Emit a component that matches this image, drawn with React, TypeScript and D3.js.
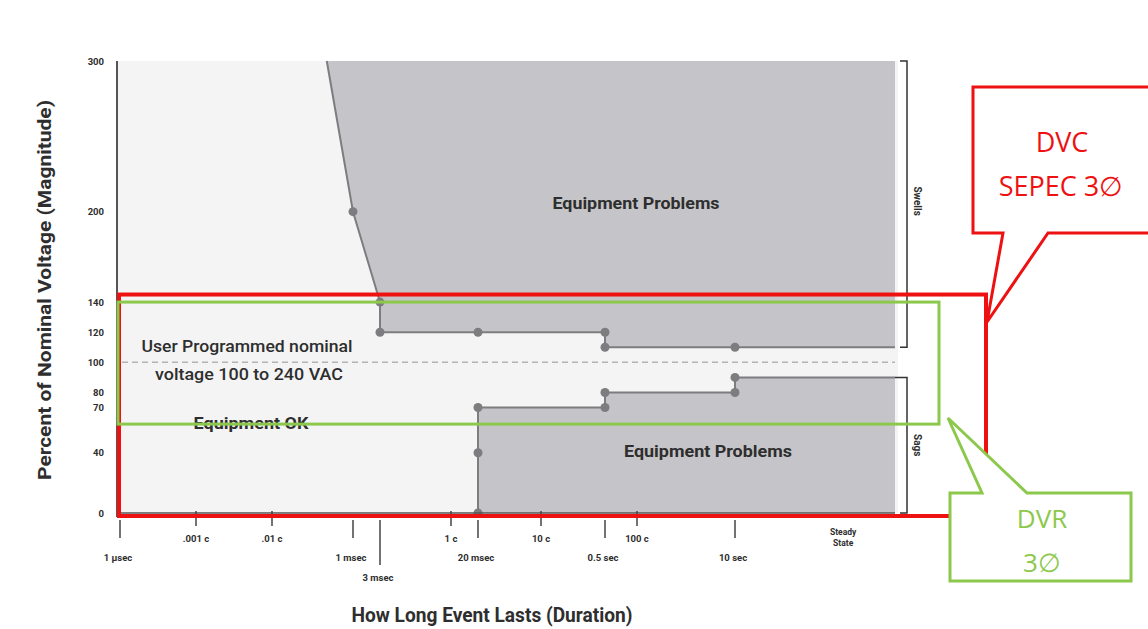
import React from "react";
import * as d3 from "d3";

// ---------- data ----------
const Y_TICKS = [0, 40, 70, 80, 100, 120, 140, 200, 300];

const CYCLE_TICKS = [
  { t: 0.001 / 60, label: ".001 c" },
  { t: 0.01 / 60, label: ".01 c" },
  { t: 1 / 60, label: "1 c" },
  { t: 10 / 60, label: "10 c" },
  { t: 100 / 60, label: "100 c" },
];

const TIME_TICKS = [
  { t: 1e-6, label: "1 \u00b5sec", long: false },
  { t: 1e-3, label: "1 msec", long: false },
  { t: 3e-3, label: "3 msec", long: true },
  { t: 0.02, label: "20 msec", long: false },
  { t: 0.5, label: "0.5 sec", long: false },
  { t: 10, label: "10 sec", long: false },
];

const T_END = 1000; // right edge of the chart (steady state)
const STEADY_LABEL_T = 225;

// Upper (swell) limit curve: [seconds, percent]
const UPPER_CURVE: [number, number][] = [
  [5.6e-4, 300],
  [1e-3, 200],
  [3e-3, 140],
  [3e-3, 120],
  [0.02, 120],
  [0.5, 120],
  [0.5, 110],
  [10, 110],
  [T_END, 110],
];
const UPPER_DOTS: [number, number][] = [
  [1e-3, 200],
  [3e-3, 140],
  [3e-3, 120],
  [0.02, 120],
  [0.5, 120],
  [0.5, 110],
  [10, 110],
];

// Lower (sag) limit curve
const LOWER_CURVE: [number, number][] = [
  [0.02, 0],
  [0.02, 40],
  [0.02, 70],
  [0.5, 70],
  [0.5, 80],
  [10, 80],
  [10, 90],
  [T_END, 90],
];
const LOWER_DOTS: [number, number][] = [
  [0.02, 0],
  [0.02, 40],
  [0.02, 70],
  [0.5, 70],
  [0.5, 80],
  [10, 80],
  [10, 90],
];

const NOMINAL = 100;
const DVC_RANGE = [0, 145];
const DVR_RANGE = [59, 140];

// ---------- layout ----------
const W = 1148;
const H = 629;
const PLOT_TOP = 61;
const PLOT_BOTTOM = 513;
const AXIS_X = 117;
// the printed time axis is a hand-drawn (piecewise) log axis
const X_BREAKS = [1e-6, 0.001 / 60, 0.01 / 60, 1e-3, 3e-3, 1 / 60, 0.02, 10 / 60, 0.5, 100 / 60, 10, T_END];
const X_BREAKS_PX = [120, 196, 272, 353, 380, 451, 478, 541, 605, 637, 735, 895];

const C_DARK = "#c5c5c9";
const C_LIGHT = "#f4f4f4";
const C_CURVE = "#7d7d80";
const C_TEXT = "#2e2e2e";
const C_RED = "#ee1111";
const C_GREEN = "#8cc84b";
const FONT = "'Roboto', 'Liberation Sans', Arial, sans-serif";
const CALLOUT_FONT = "'Open Sans', 'Liberation Sans', sans-serif";

export default function App() {
  const x = d3.scaleLog().domain(X_BREAKS).range(X_BREAKS_PX);
  const y = d3.scaleLinear().domain([0, 300]).range([PLOT_BOTTOM, PLOT_TOP]);

  const line = d3
    .line<[number, number]>()
    .x((d) => x(d[0]))
    .y((d) => y(d[1]));

  const upperPoly = line([...UPPER_CURVE, [T_END, 300]])! + "Z";
  const lowerPoly = line([...LOWER_CURVE, [T_END, 0]])! + "Z";

  const xEnd = x(T_END);

  const redTop = y(DVC_RANGE[1]);
  const redBottom = y(DVC_RANGE[0]) + 3;
  const greenTop = y(DVR_RANGE[1]);
  const greenBottom = y(DVR_RANGE[0]);

  const tickLabelStyle = {
    fontFamily: FONT,
    fontWeight: 700,
    fontSize: 9.5,
    fill: C_TEXT,
  } as const;

  return (
    <svg
      width={W}
      height={H}
      viewBox={`0 0 ${W} ${H}`}
      style={{ position: "absolute", left: 0, top: 0, background: "#fff" }}
    >
      <rect x={0} y={0} width={W} height={H} fill="#fff" />
      {/* plot background */}
      <rect x={AXIS_X} y={PLOT_TOP} width={xEnd - AXIS_X + 3} height={PLOT_BOTTOM - PLOT_TOP} fill={C_LIGHT} />

      {/* problem regions */}
      <path d={upperPoly} fill={C_DARK} />
      <path d={lowerPoly} fill={C_DARK} />

      {/* nominal dashed line */}
      <line
        x1={x(1e-6) + 2}
        x2={xEnd}
        y1={y(NOMINAL)}
        y2={y(NOMINAL)}
        stroke="#b4b4b4"
        strokeWidth={1.5}
        strokeDasharray="6 4"
      />

      {/* curves */}
      <path d={line(UPPER_CURVE)!} fill="none" stroke={C_CURVE} strokeWidth={2} />
      <path d={line(LOWER_CURVE)!} fill="none" stroke={C_CURVE} strokeWidth={2} />
      {[...UPPER_DOTS, ...LOWER_DOTS].map((d, i) => (
        <circle key={i} cx={x(d[0])} cy={y(d[1])} r={4.5} fill={C_CURVE} />
      ))}

      {/* region labels */}
      <text x={636} y={209} textAnchor="middle" textLength={167} lengthAdjust="spacingAndGlyphs"
        style={{ fontFamily: FONT, fontWeight: 700, fontSize: 16, fill: C_TEXT }}>Equipment Problems</text>
      <text x={708} y={457} textAnchor="middle" textLength={168} lengthAdjust="spacingAndGlyphs"
        style={{ fontFamily: FONT, fontWeight: 700, fontSize: 16, fill: C_TEXT }}>Equipment Problems</text>
      <text x={251} y={429} textAnchor="middle" textLength={115} lengthAdjust="spacingAndGlyphs"
        style={{ fontFamily: FONT, fontWeight: 700, fontSize: 16, fill: C_TEXT }}>Equipment OK</text>
      <text x={247} y={352} textAnchor="middle" textLength={211} lengthAdjust="spacingAndGlyphs"
        style={{ fontFamily: FONT, fontWeight: 500, fontSize: 17, fill: C_TEXT }}>User Programmed nominal</text>
      <text x={249} y={380} textAnchor="middle" textLength={188} lengthAdjust="spacingAndGlyphs"
        style={{ fontFamily: FONT, fontWeight: 500, fontSize: 17, fill: C_TEXT }}>voltage 100 to 240 VAC</text>

      {/* y axis */}
      <line x1={AXIS_X} x2={AXIS_X} y1={PLOT_TOP} y2={PLOT_BOTTOM + 4} stroke="#555" strokeWidth={2} />
      <line x1={AXIS_X} x2={xEnd} y1={PLOT_BOTTOM} y2={PLOT_BOTTOM} stroke="#555" strokeWidth={1.5} />
      {Y_TICKS.map((v) => (
        <text key={v} x={104} y={y(v) + 3.5} textAnchor="end" style={tickLabelStyle}>
          {v}
        </text>
      ))}
      <text
        transform={`translate(51,290) rotate(-90)`}
        textAnchor="middle"
        textLength={380}
        lengthAdjust="spacingAndGlyphs"
        style={{ fontFamily: FONT, fontWeight: 700, fontSize: 19, fill: C_TEXT }}
      >
        Percent of Nominal Voltage (Magnitude)
      </text>

      {/* x axis: cycle ticks */}
      {CYCLE_TICKS.map((d) => (
        <g key={d.label}>
          <line x1={x(d.t)} x2={x(d.t)} y1={PLOT_BOTTOM - 2} y2={PLOT_BOTTOM + 13} stroke="#444" strokeWidth={1.5} />
          <text x={x(d.t)} y={542} textAnchor="middle" style={tickLabelStyle}>
            {d.label}
          </text>
        </g>
      ))}
      {/* x axis: time ticks */}
      {TIME_TICKS.map((d) => (
        <g key={d.label}>
          <line
            x1={x(d.t)}
            x2={x(d.t)}
            y1={PLOT_BOTTOM + 7}
            y2={d.long ? 565 : 538}
            stroke="#444"
            strokeWidth={1.5}
          />
          <text x={x(d.t) - 2} y={d.long ? 581 : 561} textAnchor="middle" style={tickLabelStyle}>
            {d.label}
          </text>
        </g>
      ))}
      <text x={x(STEADY_LABEL_T)} y={535} textAnchor="middle" style={{ ...tickLabelStyle, fontSize: 8.5 }}>
        Steady
      </text>
      <text x={x(STEADY_LABEL_T)} y={546} textAnchor="middle" style={{ ...tickLabelStyle, fontSize: 8.5 }}>
        State
      </text>
      <text x={492} y={622} textAnchor="middle" textLength={281} lengthAdjust="spacingAndGlyphs"
        style={{ fontFamily: FONT, fontWeight: 700, fontSize: 20, fill: C_TEXT }}>
        How Long Event Lasts (Duration)
      </text>

      {/* brackets */}
      <path
        d={`M${xEnd + 5},${y(300)} H${xEnd + 12} V${y(110)} H${xEnd + 5}`}
        fill="none"
        stroke="#333"
        strokeWidth={1.5}
      />
      <path
        d={`M${xEnd},${y(90)} H${xEnd + 12} V${y(0)} H${xEnd + 5}`}
        fill="none"
        stroke="#333"
        strokeWidth={1.5}
      />
      <text transform={`translate(914,${(y(300) + y(110)) / 2 - 3}) rotate(90)`} textAnchor="middle"
        style={{ fontFamily: FONT, fontWeight: 700, fontSize: 10, fill: C_TEXT }}>Swells</text>
      <text transform={`translate(914,${(y(90) + y(0)) / 2}) rotate(90)`} textAnchor="middle"
        style={{ fontFamily: FONT, fontWeight: 700, fontSize: 10, fill: C_TEXT }}>Sags</text>

      {/* DVC range box (red) */}
      <rect x={119} y={redTop} width={986 - 119} height={redBottom - redTop} fill="none" stroke={C_RED} strokeWidth={4} />
      {/* DVR range box (green) */}
      <rect x={118} y={greenTop} width={939 - 118} height={greenBottom - greenTop} fill="none" stroke={C_GREEN} strokeWidth={3} />

      {/* red callout */}
      <path
        d="M973,87 H1150 V233 H1048 L987,322 L1003,233 H973 Z"
        fill="#fff"
        stroke={C_RED}
        strokeWidth={3}
        strokeLinejoin="miter"
      />
      <text x={1062} y={152} textAnchor="middle"
        style={{ fontFamily: CALLOUT_FONT, fontSize: 27, fill: C_RED }}>DVC</text>
      <text x={1061} y={196} textAnchor="middle"
        style={{ fontFamily: CALLOUT_FONT, fontSize: 27, fill: C_RED }}>SEPEC 3∅</text>

      {/* green callout */}
      <path
        d="M950,493 H982 L948,418 L1027,493 H1131 V581 H950 Z"
        fill="#fff"
        stroke={C_GREEN}
        strokeWidth={3}
      />
      <text x={1042} y={528} textAnchor="middle"
        style={{ fontFamily: CALLOUT_FONT, fontSize: 26, fill: C_GREEN }}>DVR</text>
      <text x={1042} y={572} textAnchor="middle"
        style={{ fontFamily: CALLOUT_FONT, fontSize: 26, fill: C_GREEN }}>3∅</text>
    </svg>
  );
}
